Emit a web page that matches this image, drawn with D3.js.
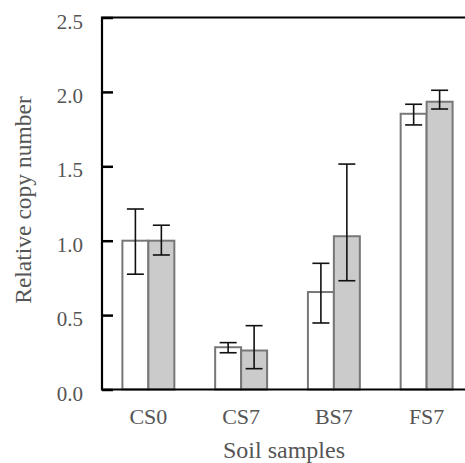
<!DOCTYPE html>
<html>
<head>
<meta charset="utf-8">
<script src="https://cdn.jsdelivr.net/npm/d3@7"></script>
<style>
  body { margin: 0; background: #fff; }
  text { font-family: 'Liberation Serif', 'Times New Roman', serif; fill: #555; }
</style>
</head>
<body>
<div id="chart"></div>
<script>
// values
const samples = ['CS0', 'CS7', 'BS7', 'FS7'];
const whiteMean = [1.00, 0.284, 0.655, 1.853];
const whiteLow = [0.775, 0.247, 0.447, 1.778];
const whiteHigh = [1.213, 0.315, 0.848, 1.917];
const grayMean = [1.00, 0.262, 1.03, 1.934];
const grayLow = [0.904, 0.14, 0.731, 1.885];
const grayHigh = [1.104, 0.429, 1.515, 2.011];
const yTicks = [0, 0.5, 1.0, 1.5, 2.0, 2.5];

const w = 465;
const h = 463;
const plot = { left: 102, right: 473, top: 17.5, bottom: 389.5 };

const svg = d3.select('#chart').
append('svg').
attr('width', w).
attr('height', h);

const x0 = d3.scaleBand().
domain(samples).
range([plot.left, plot.right]).
paddingInner(0.44).
paddingOuter(0.22);

const x1 = d3.scaleBand().
domain(['white', 'gray']).
range([0, x0.bandwidth()]);

const y = d3.scaleLinear().
domain([0, 2.5]).
range([plot.bottom, plot.top]);

const rows = [];
samples.forEach(function (s, i) {
  rows.push({ sample: s, key: 'white', mean: whiteMean[i], low: whiteLow[i], high: whiteHigh[i] });
  rows.push({ sample: s, key: 'gray', mean: grayMean[i], low: grayLow[i], high: grayHigh[i] });
});

// bars
svg.append('g').
selectAll('rect').
data(rows).
enter().
append('rect').
attr('x', d => x0(d.sample) + x1(d.key)).
attr('y', d => y(d.mean)).
attr('width', x1.bandwidth()).
attr('height', d => y(0) - y(d.mean)).
style('fill', d => d.key === 'white' ? '#fff' : '#cbcbcb').
style('stroke', '#777').
style('stroke-width', 2);

// error bars
const capW = 17;
const err = svg.append('g').
selectAll('g').
data(rows).
enter().
append('g').
attr('transform', d => 'translate(' + (x0(d.sample) + x1(d.key) + x1.bandwidth() / 2) + ',0)').
style('stroke', '#111').
style('stroke-width', 1.6);

err.append('line').
attr('y1', d => y(d.low)).
attr('y2', d => y(d.high));
err.append('line').
attr('x1', -capW / 2).attr('x2', capW / 2).
attr('y1', d => y(d.high)).attr('y2', d => y(d.high));
err.append('line').
attr('x1', -capW / 2).attr('x2', capW / 2).
attr('y1', d => y(d.low)).attr('y2', d => y(d.low));

// y axis with inward ticks
const yAxis = d3.axisLeft(y).
tickValues(yTicks).
tickSize(-11).
tickPadding(19).
tickFormat(d3.format('.1f'));

const yg = svg.append('g').
attr('transform', 'translate(' + plot.left + ',0)').
call(yAxis);
yg.select('.domain').remove();
yg.selectAll('.tick line').style('stroke', '#000').style('stroke-width', 2.5);
yg.selectAll('.tick text').
attr('dy', '0.5em').
style('font-size', '21px').
style('font-family', "'Liberation Serif', serif").
style('fill', '#555');

// frame
svg.append('path').
attr('d', 'M' + plot.right + ',' + plot.top + 'H' + plot.left + 'V' + plot.bottom + 'H' + plot.right).
style('fill', 'none').
style('stroke', '#000').
style('stroke-width', 2.2);

// x labels
svg.append('g').
selectAll('text').
data(samples).
enter().
append('text').
attr('x', d => x0(d) + x0.bandwidth() / 2).
attr('y', 423.5).
attr('text-anchor', 'middle').
style('font-size', '22px').
text(d => d);

// axis titles
svg.append('text').
attr('transform', 'translate(284,457.5)').
attr('text-anchor', 'middle').
style('font-size', '24px').
text('Soil samples');

svg.append('text').
attr('transform', 'translate(31,200) rotate(-90)').
attr('text-anchor', 'middle').
style('font-size', '23.5px').
text('Relative copy number');
</script>
</body>
</html>
